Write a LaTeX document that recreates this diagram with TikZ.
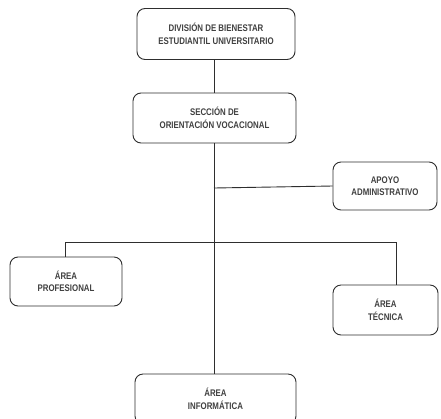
\documentclass[tikz,border=0pt]{standalone}
\usepackage{fontspec}
\setmainfont[FakeStretch=0.82]{Liberation Sans}
\definecolor{txt}{HTML}{404040}
\definecolor{ln}{HTML}{2E2E2E}
\begin{document}
\begin{tikzpicture}[x=1pt,y=-1pt,
  box/.style={draw=ln,line width=0.9pt,rounded corners=8pt,align=center,
    text=txt,font=\fontsize{9.6}{12.5}\selectfont\bfseries,inner sep=0pt},
  conn/.style={draw=ln,line width=0.9pt}]
\useasboundingbox (0,0) rectangle (441,418);
\fill[white] (0,0) rectangle (441,418);
\node[box,minimum width=158pt,minimum height=51pt] (b1) at (216,34) {DIVISIÓN DE BIENESTAR\\ESTUDIANTIL UNIVERSITARIO};
\node[box,minimum width=163pt,minimum height=50pt] (b2) at (214.5,118) {SECCIÓN DE\\ORIENTACIÓN VOCACIONAL};
\node[box,minimum width=104pt,minimum height=48pt] (ap) at (385,186) {APOYO\\ADMINISTRATIVO};
\node[box,minimum width=112pt,minimum height=49pt] (pr) at (66,281.5) {ÁREA\\PROFESIONAL};
\node[box,minimum width=105pt,minimum height=50pt] (te) at (385.5,310) {ÁREA\\TÉCNICA};
\node[box,minimum width=161pt,minimum height=50pt] (in) at (215.5,399) {ÁREA\\INFORMÁTICA};
\coordinate (j1) at (214,188);
\coordinate (L) at (65,242);
\coordinate (R) at (396,242);
\draw[conn] (b1.south -| j1) -- (b2.north -| j1);
\draw[conn] (b2.south -| j1) -- (in.north -| j1);
\draw[conn] (j1) -- (ap.west);
\draw[conn] (pr.north -| L) -- (L) -- (R) -- (te.north -| R);
\end{tikzpicture}
\end{document}
